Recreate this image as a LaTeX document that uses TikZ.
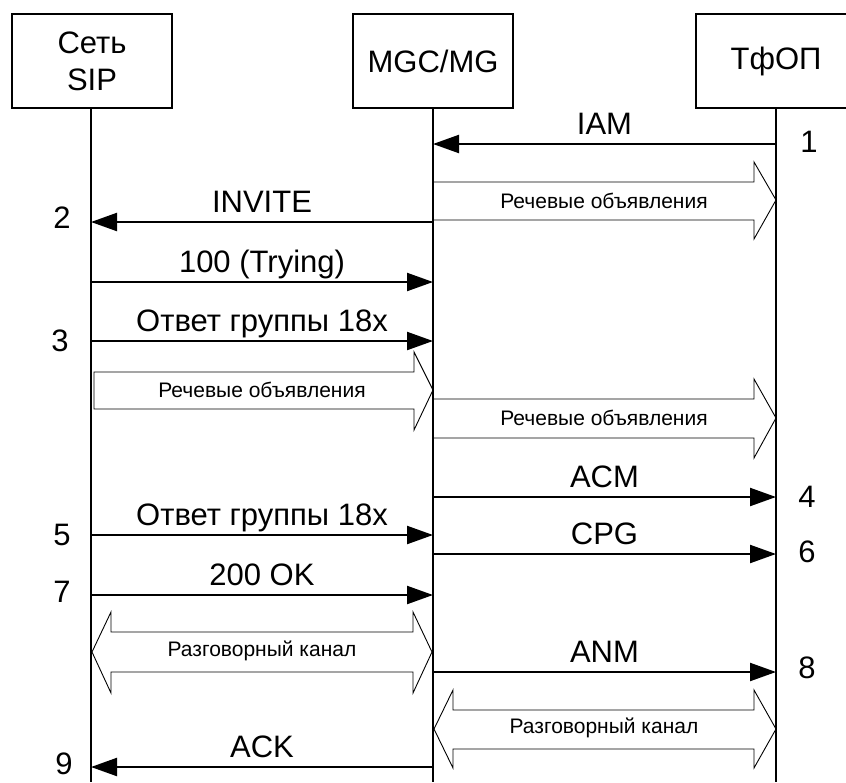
\documentclass[tikz,border=0pt]{standalone}
\usepackage{fontspec}
\setmainfont{Liberation Sans}
\usetikzlibrary{arrows.meta}
\begin{document}
\begin{tikzpicture}[x=1pt,y=-1pt,
  headbox/.style={draw, line width=1.5pt, minimum width=160pt, minimum height=94pt, inner sep=0pt, align=center, font=\fontsize{31}{37}\selectfont},
  life/.style={line width=1.3pt},
  msg/.style={line width=2.2pt, -{Triangle[length=26pt,width=18pt]}},
  lbl/.style={font=\fontsize{31}{37}\selectfont, midway, anchor=base, yshift=10pt, inner sep=0pt},
  num/.style={font=\fontsize{31}{37}\selectfont, inner sep=0pt},
  blk/.style={draw, line width=0.9pt, line join=miter},
  small/.style={font=\fontsize{21}{25}\selectfont, inner sep=0pt}]
\useasboundingbox (0,0) rectangle (846,782);
\clip (0,0) rectangle (846,782);

% heads
\node[headbox] (sip) at (92,61) {Сеть\\SIP};
\node[headbox] (mgc) at (433,61) {MGC/MG};
\node[headbox] (pstn) at (776,61) {ТфОП};

% lifelines
\coordinate (sipEnd) at (91,782);
\coordinate (mgcEnd) at (433,782);
\coordinate (pstnEnd) at (776,782);
\draw[life] (sip.south -| sipEnd) -- (sipEnd);
\draw[life] (mgc.south) -- (mgcEnd);
\draw[life] (pstn.south) -- (pstnEnd);

% message end points
\coordinate (p1) at (776,144); \coordinate (m1) at (433,144);
\coordinate (m2) at (433,222); \coordinate (s2) at (91,222);
\coordinate (s3) at (91,282);  \coordinate (m3) at (433,282);
\coordinate (s4) at (91,341);  \coordinate (m4) at (433,341);
\coordinate (m5) at (433,497); \coordinate (p5) at (776,497);
\coordinate (s6) at (91,535);  \coordinate (m6) at (433,535);
\coordinate (m7) at (433,554); \coordinate (p7) at (776,554);
\coordinate (s8) at (91,595);  \coordinate (m8) at (433,595);
\coordinate (m9) at (433,672); \coordinate (p9) at (776,672);
\coordinate (m10) at (433,767); \coordinate (s10) at (91,767);

% messages
\draw[msg] (p1) -- node[lbl]{IAM} (m1);
\draw[msg] (m2) -- node[lbl]{INVITE} (s2);
\draw[msg] (s3) -- node[lbl]{100 (Trying)} (m3);
\draw[msg] (s4) -- node[lbl]{Ответ группы 18x} (m4);
\draw[msg] (m5) -- node[lbl]{ACM} (p5);
\draw[msg] (s6) -- node[lbl]{Ответ группы 18x} (m6);
\draw[msg] (m7) -- node[lbl]{CPG} (p7);
\draw[msg] (s8) -- node[lbl]{200 OK} (m8);
\draw[msg] (m9) -- node[lbl]{ANM} (p9);
\draw[msg] (m10) -- node[lbl]{ACK} (s10);

% speech announcement block arrows
\draw[blk] (433,182) -- (754,182) -- (754,162) -- (776,200) -- (754,239) -- (754,220) -- (433,220);
\node[small] (ann1) at (604,201) {Речевые объявления};
\draw[blk] (94,372) -- (414,372) -- (414,352) -- (433,390) -- (414,430) -- (414,409) -- (94,409) -- cycle;
\node[small] (ann2) at (262,390) {Речевые объявления};
\draw[blk] (433,399) -- (754,399) -- (754,379) -- (776,418) -- (754,458) -- (754,438) -- (433,438);
\node[small] (ann3) at (604,418) {Речевые объявления};

% voice channel double arrows
\draw[blk] (92,652) -- (111,612) -- (111,632) -- (413,632) -- (413,612) -- (432,652) -- (413,693) -- (413,672) -- (111,672) -- (111,693) -- cycle;
\node[small] (ch1) at (262,651) {Разговорный канал};
\draw[blk] (434,729) -- (453,690) -- (453,710) -- (754,710) -- (754,690) -- (776,729) -- (754,768) -- (754,749) -- (453,749) -- (453,768) -- cycle;
\node[small] (ch2) at (604,728) {Разговорный канал};

% step numbers
\node[num] (n1) at (809,142) {1};
\node[num] (n2) at (62,218) {2};
\node[num] (n3) at (60,341) {3};
\node[num] (n4) at (807,497) {4};
\node[num] (n5) at (62,535) {5};
\node[num] (n6) at (807,552) {6};
\node[num] (n7) at (62,592) {7};
\node[num] (n8) at (807,668) {8};
\node[num] (n9) at (64,764) {9};
\end{tikzpicture}
\end{document}
